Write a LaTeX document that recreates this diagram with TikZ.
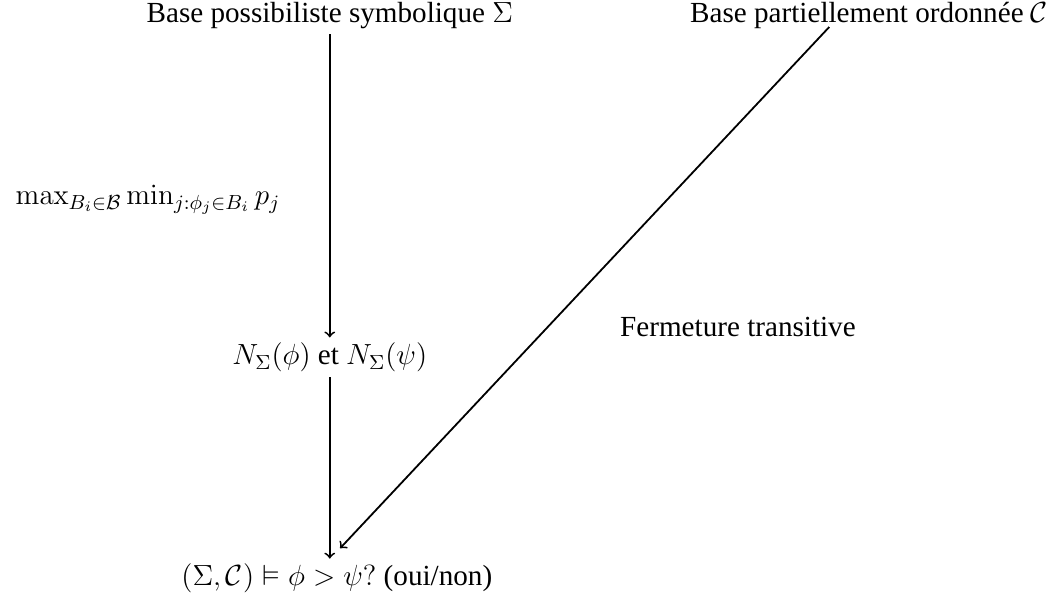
\documentclass[tikz,border=0pt]{standalone}
\usepackage{fix-cm}
\usepackage{amssymb}
\usepackage[no-math]{fontspec}
\setmainfont{Liberation Serif}
\begin{document}
\begin{tikzpicture}[>=to, thick,
            every node/.style={inner sep=2pt, font=\fontsize{12.9pt}{15pt}\selectfont}]
            \useasboundingbox (0,0) rectangle (16.49,9.37);
            \node (sigma) at (5.13,9.13) {Base possibiliste symbolique $\Sigma$};
            \node (porder) at (13.52,9.13) {Base partiellement ordonn\'ee $\mathcal{C}$};
            \node (nsig) at (5.13,3.81) {$N_\Sigma(\phi)$ et $N_\Sigma(\psi)$};
            \node (result) at (5.24,0.37) {$(\Sigma,\mathcal{C}) \vDash \phi > \psi?$ (oui/non)};
            \node (maxmin) at (2.30,6.26) {$\max_{B_i\in\mathcal{B}}\min_{j:\phi_j\in B_i} p_j$};
            \node (ferm) at (11.48,4.28) {Fermeture transitive};
            \coordinate (dstart) at (12.90,8.95);
            \coordinate (dend) at (5.29,0.84);
            \draw[->] (sigma.south) -- (nsig.north);
            \draw[->] (nsig.south) -- (nsig.south |- result.north);
            \draw[->] (dstart) -- (dend); % diagonale
        \end{tikzpicture}
\end{document}
